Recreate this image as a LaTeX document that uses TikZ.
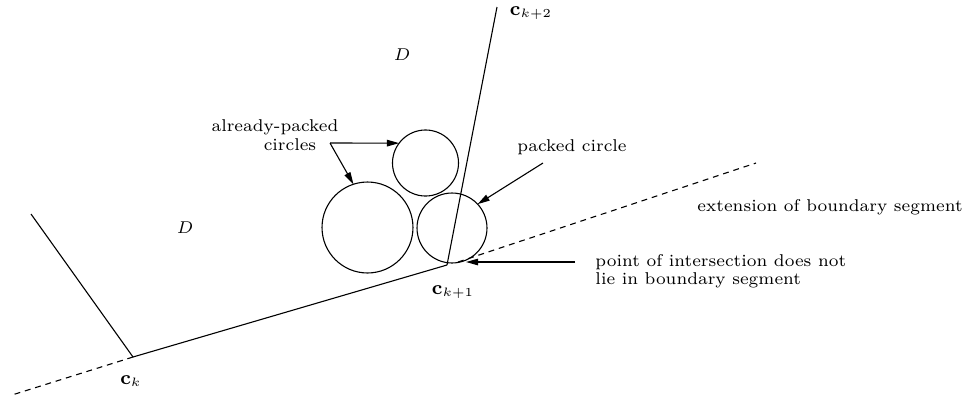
\documentclass[tikz,border=0pt]{standalone}
\usepackage{amsmath,amssymb}
\usepackage{tikz}
\usetikzlibrary{positioning,calc}
\usetikzlibrary{arrows.meta}
\tikzset{
	bnd/.style={draw=black,line width=0.45pt},
	ext/.style={draw=black,line width=0.45pt,dash pattern=on 2.4pt off 2pt},
	disc/.style={circle,draw=black,line width=0.45pt,inner sep=0pt,outer sep=0pt},
	ptr/.style={draw=black,line width=0.45pt,-{Triangle[length=5pt,width=2.7pt]}},
	txt/.style={inner sep=0pt,font=\fontsize{7}{7.4}\selectfont},
	vtx/.style={inner sep=0pt,font=\fontsize{7.6}{8}\selectfont},
}

\begin{document}
\begin{tikzpicture}[x=1.439cm,y=1.439cm]
	\useasboundingbox (0,0) rectangle (9.65,3.98);
	% boundary corners
	\coordinate (ck) at (1.33,0.41);
	\coordinate (ck1) at (4.47,1.33);
	\coordinate (ck2) at (4.97,3.91);
	\coordinate (prev) at (0.31,1.84);
	\coordinate (extl) at (0.12,0.03);
	\coordinate (exts) at (4.58,1.36);
	\coordinate (exte) at (7.56,2.35);
	\draw[bnd] (prev)--(ck);
	\draw[bnd] (ck)--(ck1);
	\draw[bnd] (ck1)--(ck2);
	\draw[ext] (ck)--(extl);
	\draw[ext] (exts)--(exte);
	% circles
	\node[disc,minimum size=1.309cm] (bigc) at (3.675,1.705) {};
	\node[disc,minimum size=0.950cm] (upc) at (4.255,2.35) {};
	\node[disc,minimum size=1.007cm] (pkc) at (4.52,1.70) {};
	% labels
	\node[vtx] (lck) at (1.31,0.17) {$\mathbf{c}_k$};
	\node[vtx] (lck1) at (4.53,1.06) {$\mathbf{c}_{k+1}$};
	\node[vtx] (lck2) at (5.31,3.85) {$\mathbf{c}_{k+2}$};
	\node[txt] (dup) at (4.02,3.43) {$D$};
	\node[txt] (dlow) at (1.85,1.70) {$D$};
	\node[txt] (apk) at (2.75,2.71) {already-packed};
	\node[txt] (apc) at (2.90,2.53) {circles};
	\node[txt,anchor=west] (pkt) at (5.17,2.51) {packed circle};
	\node[txt,anchor=west] (ext) at (6.97,1.91) {extension of boundary segment};
	\node[txt,anchor=west,align=left] (pit) at (5.95,1.265) {point of intersection does not\\lie in boundary segment};
	% pointers
	\coordinate (fork) at (3.30,2.55);
	\coordinate (pkfrom) at (5.43,2.35);
	\coordinate (pifrom) at (5.75,1.36);
	\coordinate (pito) at (4.66,1.36);
	\draw[ptr] (fork)--(upc.143);
	\draw[ptr] (fork)--(bigc.108);
	\draw[ptr] (pkfrom)--(pkc.43);
	\draw[ptr] (pifrom)--(pito);
\end{tikzpicture}
\end{document}
